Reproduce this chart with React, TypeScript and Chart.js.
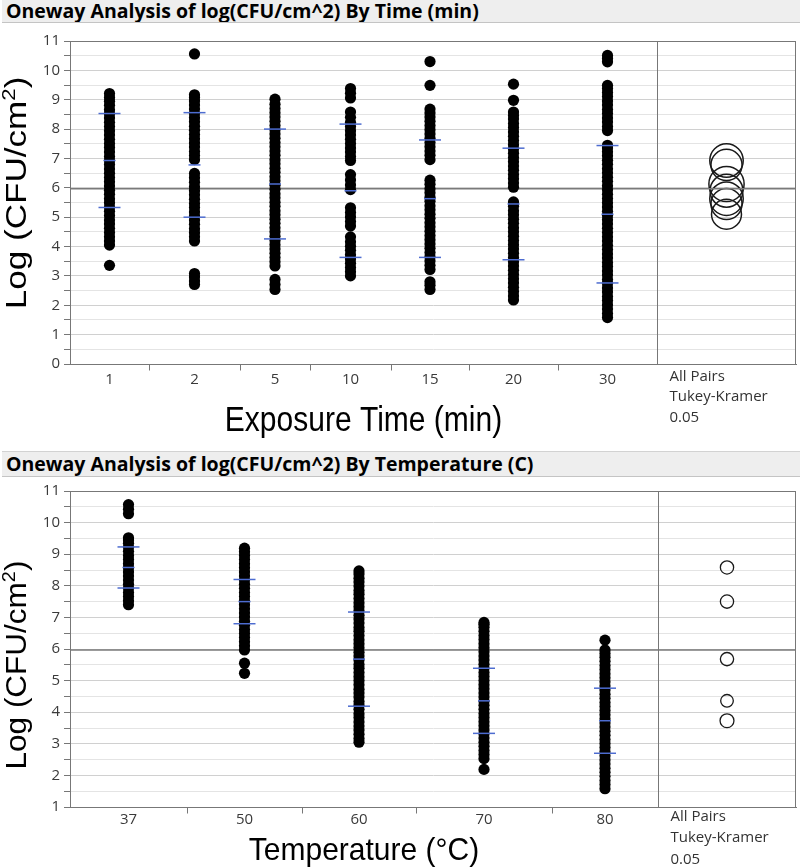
import React, { useEffect, useRef } from 'react';
import { Chart, registerables } from 'chart.js';

Chart.register(...registerables);

// ---------- Panel 1: log(CFU/cm^2) by exposure time ----------
const timeLabels = ['1', '2', '5', '10', '15', '20', '30'];
// relative group sizes (JMP draws x widths proportional to group size)
const timeWeights = [79, 91, 70, 81, 78, 89, 99];
const time1 = [3.36, 4.05, 4.19, 4.33, 4.48, 4.62, 4.77, 4.9, 5.06, 5.2, 5.34, 5.49, 5.63, 5.78, 5.92, 6.06, 6.21, 6.35, 6.5, 6.64, 6.79, 6.93, 7.07, 7.22, 7.37, 7.51, 7.65, 7.8, 7.94, 8.09, 8.23, 8.38, 8.52, 8.66, 8.81, 8.95, 9.08, 9.21];
const time2 = [2.71, 2.83, 2.96, 3.08, 4.19, 4.33, 4.47, 4.61, 4.76, 4.9, 5.04, 5.18, 5.33, 5.47, 5.61, 5.76, 5.9, 6.04, 6.19, 6.34, 6.49, 6.96, 7.1, 7.24, 7.39, 7.53, 7.67, 7.82, 7.96, 8.1, 8.25, 8.39, 8.53, 8.68, 8.82, 8.96, 9.08, 9.17, 10.56];
const time5 = [2.54, 2.71, 2.88, 3.34, 3.48, 3.63, 3.77, 3.92, 4.06, 4.21, 4.35, 4.5, 4.64, 4.79, 4.93, 5.08, 5.22, 5.37, 5.51, 5.66, 5.8, 5.95, 6.09, 6.24, 6.38, 6.53, 6.67, 6.82, 6.96, 7.11, 7.25, 7.4, 7.54, 7.69, 7.83, 7.98, 8.12, 8.27, 8.41, 8.56, 8.7, 8.85, 9.02];
const time10 = [3.0, 3.14, 3.29, 3.43, 3.58, 3.72, 3.87, 4.01, 4.16, 4.33, 4.7, 4.85, 5.01, 5.16, 5.32, 5.94, 6.1, 6.27, 6.45, 6.93, 7.07, 7.22, 7.36, 7.51, 7.65, 7.8, 7.94, 8.09, 8.23, 8.4, 8.58, 9.06, 9.22, 9.38];
const time15 = [2.54, 2.68, 2.8, 3.22, 3.36, 3.51, 3.65, 3.8, 3.94, 4.09, 4.23, 4.38, 4.52, 4.67, 4.81, 4.96, 5.1, 5.25, 5.39, 5.54, 5.68, 5.83, 5.97, 6.12, 6.26, 6.96, 7.11, 7.25, 7.4, 7.54, 7.69, 7.83, 7.98, 8.12, 8.27, 8.41, 8.55, 8.68, 9.49, 10.3];
const time20 = [2.18, 2.32, 2.47, 2.61, 2.76, 2.9, 3.05, 3.19, 3.34, 3.48, 3.63, 3.77, 3.92, 4.06, 4.21, 4.35, 4.5, 4.64, 4.79, 4.93, 5.08, 5.22, 5.37, 5.52, 6.02, 6.16, 6.31, 6.45, 6.6, 6.74, 6.89, 7.03, 7.18, 7.32, 7.47, 7.61, 7.76, 7.9, 8.05, 8.19, 8.34, 8.46, 8.58, 8.98, 9.53];
const time30 = [1.58, 1.72, 1.87, 2.01, 2.16, 2.3, 2.45, 2.59, 2.74, 2.88, 3.03, 3.17, 3.32, 3.46, 3.61, 3.75, 3.9, 4.04, 4.19, 4.33, 4.48, 4.62, 4.77, 4.91, 5.06, 5.2, 5.35, 5.49, 5.64, 5.78, 5.93, 6.07, 6.22, 6.36, 6.51, 6.65, 6.8, 6.94, 7.09, 7.23, 7.36, 7.45, 7.95, 8.09, 8.24, 8.38, 8.53, 8.67, 8.82, 8.96, 9.11, 9.25, 9.38, 9.49, 10.29, 10.4, 10.51];
const timeMeans = [6.93, 6.78, 6.13, 5.9, 5.63, 5.45, 5.1];
const timeSDs = [1.6, 1.78, 1.87, 2.27, 2.0, 1.9, 2.34];
const timeCircleR = [0.57, 0.53, 0.6, 0.56, 0.57, 0.53, 0.51];
const timeGrandMean = 5.97;

// ---------- Panel 2: log(CFU/cm^2) by temperature ----------
const tempLabels = ['37', '50', '60', '70', '80'];
const tempWeights = [117, 115, 114, 136, 106];
const temp37 = [7.4, 7.53, 7.66, 7.79, 7.92, 8.05, 8.18, 8.31, 8.44, 8.57, 8.7, 8.83, 8.96, 9.09, 9.22, 9.35, 9.45, 9.52, 10.28, 10.42, 10.57];
const temp50 = [5.23, 5.55, 5.97, 6.1, 6.23, 6.36, 6.49, 6.62, 6.75, 6.88, 7.01, 7.14, 7.27, 7.4, 7.53, 7.66, 7.79, 7.92, 8.05, 8.18, 8.31, 8.44, 8.57, 8.7, 8.83, 8.96, 9.08, 9.19];
const temp60 = [3.05, 3.17, 3.3, 3.44, 3.56, 3.69, 3.83, 3.95, 4.09, 4.22, 4.34, 4.48, 4.61, 4.73, 4.87, 5.0, 5.12, 5.26, 5.39, 5.51, 5.65, 5.78, 5.9, 6.04, 6.17, 6.29, 6.43, 6.56, 6.68, 6.82, 6.95, 7.07, 7.21, 7.34, 7.46, 7.6, 7.73, 7.85, 7.99, 8.12, 8.24, 8.37, 8.47];
const temp70 = [2.19, 2.53, 2.66, 2.79, 2.92, 3.05, 3.18, 3.31, 3.44, 3.57, 3.7, 3.83, 3.96, 4.09, 4.22, 4.35, 4.48, 4.61, 4.74, 4.87, 5.0, 5.13, 5.26, 5.39, 5.52, 5.65, 5.78, 5.91, 6.04, 6.17, 6.3, 6.43, 6.56, 6.69, 6.78, 6.84];
const temp80 = [1.58, 1.71, 1.84, 1.97, 2.1, 2.23, 2.36, 2.49, 2.62, 2.75, 2.88, 3.01, 3.14, 3.27, 3.4, 3.53, 3.66, 3.79, 3.92, 4.05, 4.18, 4.31, 4.44, 4.57, 4.7, 4.83, 4.96, 5.09, 5.22, 5.35, 5.48, 5.61, 5.74, 5.86, 5.97, 6.28];
const tempMeans = [8.58, 7.5, 5.68, 4.36, 3.73];
const tempSDs = [0.65, 0.7, 1.49, 1.03, 1.03];
const tempCircleR = [0.21, 0.21, 0.21, 0.2, 0.22];
const tempGrandMean = 5.97;

const compareLines = ['All Pairs', 'Tukey-Kramer', '0.05'];
const TICK_FONT = '"Open Sans", "Noto Sans", sans-serif';
const TITLE_FONT = '"Liberation Sans", Arial, sans-serif';

const panelDecor = {
  id: 'panelDecor',
  afterDraw(chart: any, _args: any, o: any) {
    const { ctx, chartArea: a } = chart;
    const x = chart.scales.x;
    ctx.save();
    ctx.strokeStyle = '#777';
    ctx.lineWidth = 1;
    const L = Math.round(a.left) + 0.5;
    const T = Math.round(a.top) + 0.5;
    const R = Math.round(a.right) - 0.5;
    const B = Math.round(a.bottom) + 0.5;
    ctx.strokeRect(L, T, R - L, B - T);
    const sx = Math.round(x.getPixelForValue(o.mainTotal)) + 0.5;
    ctx.beginPath();
    ctx.moveTo(sx, T);
    ctx.lineTo(sx, B);
    ctx.stroke();
    o.boundaries.forEach((b: number) => {
      const px = Math.round(x.getPixelForValue(b)) + 0.5;
      ctx.beginPath();
      ctx.moveTo(px, B);
      ctx.lineTo(px, B + 6);
      ctx.stroke();
    });

    // x axis title (centered on the group area)
    const midX = (x.getPixelForValue(0) + x.getPixelForValue(o.mainTotal)) / 2;
    ctx.fillStyle = '#000';
    ctx.save();
    ctx.translate(midX, a.bottom + o.xTitleBaseline);
    ctx.scale(1, o.stretch);
    ctx.font = '30px ' + TITLE_FONT;
    ctx.textAlign = 'center';
    ctx.textBaseline = 'alphabetic';
    ctx.fillText(o.xTitle, 0, 0);
    ctx.restore();

    // y axis title with superscript
    ctx.save();
    ctx.translate(o.yTitleX, o.yTitleY);
    ctx.scale(1, o.stretch);
    ctx.rotate(-Math.PI / 2);
    const big = '30px ' + TITLE_FONT;
    const small = '19px ' + TITLE_FONT;
    const p1 = 'Log (CFU/cm';
    ctx.font = big;
    const w1 = ctx.measureText(p1).width;
    const w3 = ctx.measureText(')').width;
    ctx.font = small;
    const w2 = ctx.measureText('2').width;
    let cx = -(w1 + w2 + w3) / 2;
    ctx.textAlign = 'left';
    ctx.textBaseline = 'alphabetic';
    ctx.font = big;
    ctx.fillText(p1, cx, 0);
    cx += w1;
    ctx.font = small;
    ctx.fillText('2', cx, -11);
    cx += w2;
    ctx.font = big;
    ctx.fillText(')', cx, 0);
    ctx.restore();

    // comparison circle caption
    ctx.font = '15px ' + TICK_FONT;
    ctx.fillStyle = '#333';
    ctx.textAlign = 'left';
    ctx.textBaseline = 'middle';
    compareLines.forEach((t, i) => {
      ctx.fillText(t, sx + 12, a.bottom + o.compareDy[i]);
    });
    ctx.restore();
  },
};

function buildConfig(p: any) {
  const centers: number[] = [];
  const boundaries: number[] = [];
  let acc = 0;
  p.weights.forEach((w: number, i: number) => {
    centers.push(acc + w / 2);
    acc += w;
    if (i < p.weights.length - 1) boundaries.push(acc);
  });
  const mainTotal = acc;
  const xMax = acc + p.compareW;
  const circleX = mainTotal + p.compareW / 2;

  const points: { x: number; y: number }[] = [];
  p.groups.forEach((g: number[], i: number) => g.forEach((v) => points.push({ x: centers[i], y: v })));
  const sdPts: { x: number; y: number }[] = [];
  p.means.forEach((m: number, i: number) => {
    sdPts.push({ x: centers[i], y: m + p.sds[i] });
    sdPts.push({ x: centers[i], y: m - p.sds[i] });
  });
  const meanPts = p.means.map((m: number, i: number) => ({ x: centers[i], y: m }));
  const circlePts = p.means.map((m: number) => ({ x: circleX, y: m }));
  const radii = p.circleR;

  return {
    type: 'scatter',
    data: {
      datasets: [
        {
          data: sdPts,
          pointStyle: 'line',
          pointRadius: 11,
          borderColor: '#4d6cd0',
          borderWidth: 1.5,
        },
        {
          data: meanPts,
          pointStyle: 'line',
          pointRadius: 6,
          borderColor: '#4d6cd0',
          borderWidth: 1.5,
        },
        {
          data: points,
          pointStyle: 'circle',
          pointRadius: 5.6,
          backgroundColor: '#000',
          borderWidth: 0,
        },
        {
          type: 'line',
          data: [
            { x: 0, y: p.grandMean },
            { x: xMax, y: p.grandMean },
          ],
          borderColor: '#7a7a7a',
          borderWidth: 1.5,
          pointRadius: 0,
        },
        {
          data: circlePts,
          pointStyle: 'circle',
          backgroundColor: 'rgba(0,0,0,0)',
          borderColor: '#1a1a1a',
          borderWidth: p.circleLine,
          pointRadius: (ctx: any) => {
            const ys = ctx.chart.scales.y;
            const r = radii[ctx.dataIndex] || 0;
            return Math.abs(ys.getPixelForValue(p.yMin) - ys.getPixelForValue(p.yMin + r));
          },
        },
      ],
    },
    options: {
      animation: false,
      responsive: false,
      maintainAspectRatio: false,
      events: [],
      layout: { autoPadding: false, padding: { top: p.padTop, right: 4, left: 0, bottom: 0 } },
      plugins: {
        legend: { display: false },
        tooltip: { enabled: false },
        panelDecor: {
          mainTotal,
          boundaries,
          xTitle: p.xTitle,
          xTitleBaseline: p.xTitleBaseline,
          yTitleX: 26,
          yTitleY: p.yTitleY,
          stretch: p.stretch,
          compareDy: p.compareDy,
        },
      },
      scales: {
        x: {
          type: 'linear',
          min: 0,
          max: xMax,
          afterBuildTicks: (s: any) => {
            s.ticks = centers.map((v) => ({ value: v }));
          },
          afterFit: (s: any) => {
            s.height = p.xAxisH;
          },
          grid: { display: false, drawTicks: false, tickLength: 0 },
          border: { display: true, color: '#777' },
          ticks: {
            autoSkip: false,
            maxRotation: 0,
            padding: p.xTickPad,
            color: '#3a3a3a',
            font: { family: TICK_FONT, size: 15 },
            callback: (_v: any, i: number) => p.labels[i],
          },
        },
        y: {
          min: p.yMin,
          max: p.yMax,
          afterFit: (s: any) => {
            s.width = 70;
          },
          grid: {
            color: (c: any) => (c.tick && Number.isInteger(c.tick.value) ? '#d0d0d0' : '#e4e4e4'),
            tickColor: '#777',
            tickLength: 6,
            lineWidth: 1,
          },
          border: { display: true, color: '#777' },
          ticks: {
            stepSize: 0.5,
            autoSkip: false,
            padding: 4,
            color: '#3a3a3a',
            font: { family: TICK_FONT, size: 15 },
            callback: (v: any) => (Number.isInteger(v) ? String(v) : ''),
          },
        },
      },
    },
    plugins: [panelDecor],
  };
}

const topPanel = {
  labels: timeLabels,
  weights: timeWeights,
  groups: [time1, time2, time5, time10, time15, time20, time30],
  means: timeMeans,
  sds: timeSDs,
  circleR: timeCircleR,
  grandMean: timeGrandMean,
  yMin: 0,
  yMax: 11,
  compareW: 139,
  padTop: 41,
  xAxisH: 76,
  xTickPad: 7,
  xTitle: 'Exposure Time (min)',
  xTitleBaseline: 67,
  yTitleY: 193,
  stretch: 1.17,
  compareDy: [13, 33, 54],
  circleLine: 1.5,
};

const bottomPanel = {
  labels: tempLabels,
  weights: tempWeights,
  groups: [temp37, temp50, temp60, temp70, temp80],
  means: tempMeans,
  sds: tempSDs,
  circleR: tempCircleR,
  grandMean: tempGrandMean,
  yMin: 1,
  yMax: 11,
  compareW: 138,
  padTop: 51,
  xAxisH: 61,
  xTickPad: 4,
  xTitle: 'Temperature (\u00B0C)',
  xTitleBaseline: 53,
  yTitleY: 225,
  stretch: 1.05,
  compareDy: [10, 31, 53],
  circleLine: 1.3,
};

const barStyle = (top: number, height: number): React.CSSProperties => ({
  position: 'absolute',
  left: 2,
  top,
  width: 796,
  height: height - 2,
  lineHeight: `${height - 2}px`,
  background: '#eeeeee',
  borderTop: '1px solid #d2d2d2',
  borderBottom: '1px solid #c4c4c4',
  fontFamily: '"Open Sans", "Noto Sans", sans-serif',
  fontWeight: 700,
  fontSize: '19.5px',
  color: '#000',
  paddingLeft: 4,
  boxSizing: 'content-box',
  whiteSpace: 'nowrap',
  overflow: 'hidden',
});

export default function App() {
  const topRef = useRef<HTMLCanvasElement>(null);
  const botRef = useRef<HTMLCanvasElement>(null);

  useEffect(() => {
    const c1 = new Chart(topRef.current as HTMLCanvasElement, buildConfig(topPanel) as any);
    const c2 = new Chart(botRef.current as HTMLCanvasElement, buildConfig(bottomPanel) as any);
    return () => {
      c1.destroy();
      c2.destroy();
    };
  }, []);

  return (
    <div style={{ position: 'absolute', left: 0, top: 0, width: 800, height: 868, background: '#fff', overflow: 'hidden' }}>
      <canvas ref={topRef} width={800} height={440} style={{ position: 'absolute', left: 0, top: 0, display: 'block' }} />
      <canvas ref={botRef} width={800} height={428} style={{ position: 'absolute', left: 0, top: 440, display: 'block' }} />
      <div style={barStyle(-1, 24)}>Oneway Analysis of log(CFU/cm^2) By Time (min)</div>
      <div style={barStyle(451, 26)}>Oneway Analysis of log(CFU/cm^2) By Temperature (C)</div>
    </div>
  );
}
